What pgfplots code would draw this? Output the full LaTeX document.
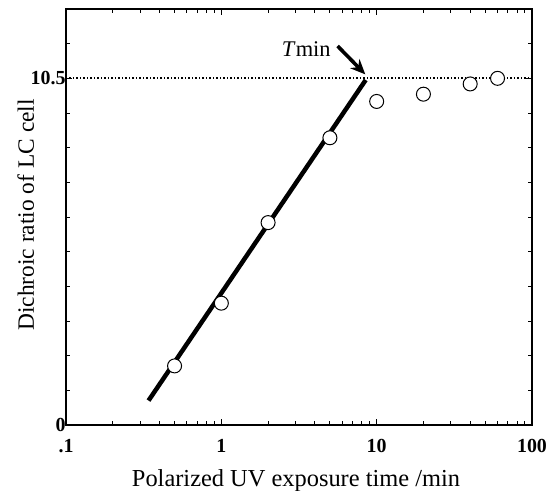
\documentclass[border=0pt]{standalone}
\usepackage{fontspec}
\setmainfont{Liberation Serif}
\usepackage{pgfplots}
\pgfplotsset{compat=1.18}
\usetikzlibrary{arrows.meta}
\begin{document}
\begin{tikzpicture}
\begin{axis}[
  at={(0,0)}, anchor=south west,
  width=466bp, height=416bp, scale only axis,
  xmode=log, xmin=0.1, xmax=100, ymin=0, ymax=12.6,
  axis line style={line width=1.5bp},
  tick style={line width=0.9bp, black},
  tick align=inside,
  major tick length=6bp, minor tick length=4bp,
  xtick={0.1,1,10,100},
  xticklabels={.1,1,10,100},
  minor xtick={0.2,0.3,0.4,0.5,0.6,0.7,0.8,0.9,2,3,4,5,6,7,8,9,20,30,40,50,60,70,80,90},
  ytick={0,10.5},
  yticklabels={0,10.5},
  minor ytick={1.05,2.1,3.15,4.2,5.25,6.3,7.35,8.4,9.45,11.55},
  ticklabel style={font=\fontsize{20}{22}\selectfont\bfseries},
  xticklabel style={yshift=-11bp},
  yticklabel style={xshift=3bp},
  xlabel={Polarized UV exposure time /min},
  ylabel={Dichroic ratio of LC cell},
  xlabel style={font=\fontsize{24.5}{28}\selectfont, at={(axis description cs:0.5,0)}, anchor=base, yshift=-61bp, xshift=-3bp},
  ylabel style={font=\fontsize{23.5}{28}\selectfont, anchor=base, rotate=0},
  every axis y label/.append style={at={([xshift=-32bp]axis description cs:0,0.505)}},
  clip=false,
]
% dotted reference line at 10.5
\addplot[black, line width=1.8bp, dash pattern=on 1.1bp off 2.4bp, forget plot] coordinates {(0.1,10.5) (100,10.5)};
% fitted line
\addplot[black, line width=4.5bp, forget plot] coordinates {(0.34,0.74) (8.5,10.45)};
% data points
\addplot[only marks, mark=*, mark size=7bp, mark options={fill=white, draw=black, line width=1bp}] coordinates {
  (0.5,1.79) (1,3.69) (2,6.13) (5,8.70) (10,9.80) (20,10.02) (40,10.33) (60,10.50)
};
\draw[black, line width=3.6bp, -{Stealth[length=15bp,width=13bp]}] (axis cs:5.6,11.48) -- (axis cs:8.45,10.62);
\node[anchor=base west, inner sep=0pt, font=\fontsize{22.5}{26}\selectfont] at (axis cs:2.45,11.15) {\textit{T}min};
\end{axis}
\pgfresetboundingbox
\useasboundingbox (-66bp,-66bp) rectangle (481bp,425bp);
\end{tikzpicture}
\end{document}
